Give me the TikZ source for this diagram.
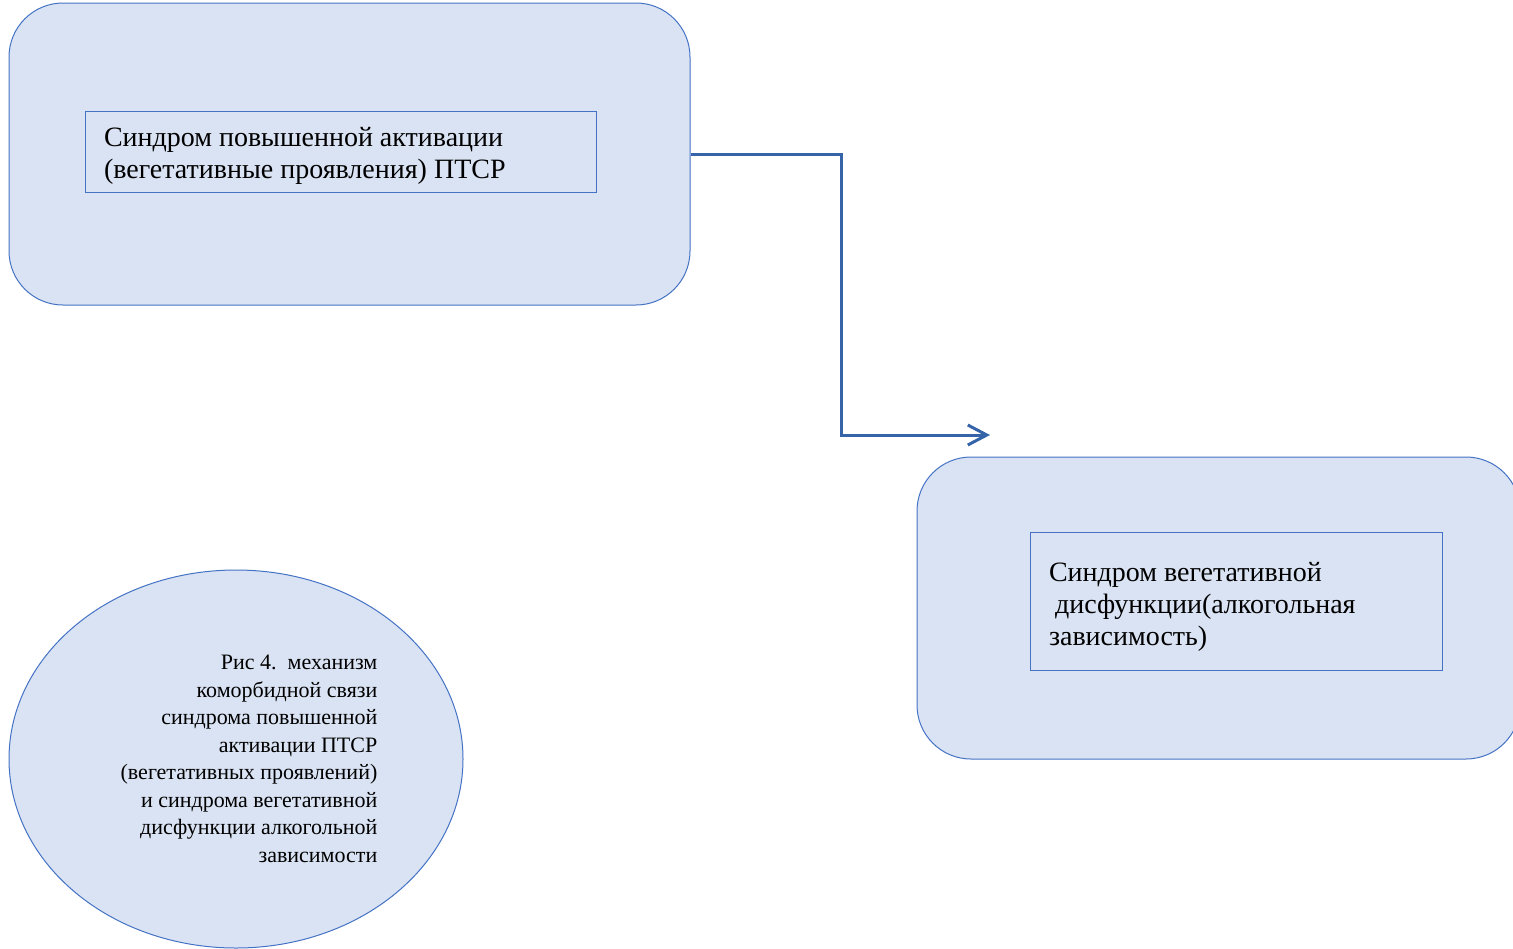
\documentclass[tikz,border=0pt]{standalone}
\usepackage{fontspec}
\setmainfont{Liberation Serif}
\usetikzlibrary{positioning,shapes.geometric,arrows.meta}
\definecolor{paleblue}{HTML}{DAE3F3}
\definecolor{edgeblue}{HTML}{4472C4}
\definecolor{linkblue}{HTML}{3564A8}
\tikzset{
  outerbox/.style={
    draw=edgeblue, line width=0.5pt, fill=paleblue,
    rounded corners=27pt, minimum height=151pt, inner sep=0pt
  },
  textbox/.style={
    draw=edgeblue, line width=0.5pt,
    inner xsep=9.5pt, inner ysep=0pt,
    font=\fontsize{14}{16}\selectfont
  },
  link/.style={
    draw=linkblue, line width=1.5pt,
    -{Straight Barb[length=9.5pt,width=10pt,line width=1.5pt]}
  }
}

\begin{document}
\begin{tikzpicture}[x=0.5pt,y=-0.5pt]
        \useasboundingbox (0,0) rectangle (1513,948);
        \node [outerbox, minimum width=340.5pt] (ptsdBox) at (349.5,154) {};
        \node [on grid, above left=1.25pt and 4.5pt of ptsdBox, textbox, minimum height=40.5pt] (ptsdText)
          {\parbox{236.5pt}{\vspace{4pt}Синдром повышенной активации\\(вегетативные проявления) ПТСР}};
        \node [on grid, below right=227pt and 434.5pt of ptsdBox, outerbox, minimum width=301.5pt] (alcBox) {};
        \node [on grid, above right=3.5pt and 8.75pt of alcBox, textbox, minimum height=69pt] (alcText)
          {\parbox{187pt}{\vspace{6pt}Синдром вегетативной\\\hspace*{3pt}дисфункции(алкогольная\\зависимость)}};
        \node [ellipse, draw=edgeblue, line width=0.5pt, fill=paleblue, minimum width=227pt, minimum height=189pt] (captionOval) at (236,759) {};
        \node [on grid, right=6.5pt of captionOval, align=right, font=\fontsize{11}{13.75}\selectfont] (captionText)
          {Рис 4.\ \ механизм\\коморбидной связи\\синдрома повышенной\\активации ПТСР\\(вегетативных проявлений)\\и синдрома вегетативной\\дисфункции алкогольной\\зависимости};
        \coordinate (turn) at (841,435);
        \coordinate (arrowTip) at (990,435);
        \draw [link] (ptsdBox.east) -| (turn) -- (arrowTip);
      \end{tikzpicture}
\end{document}
